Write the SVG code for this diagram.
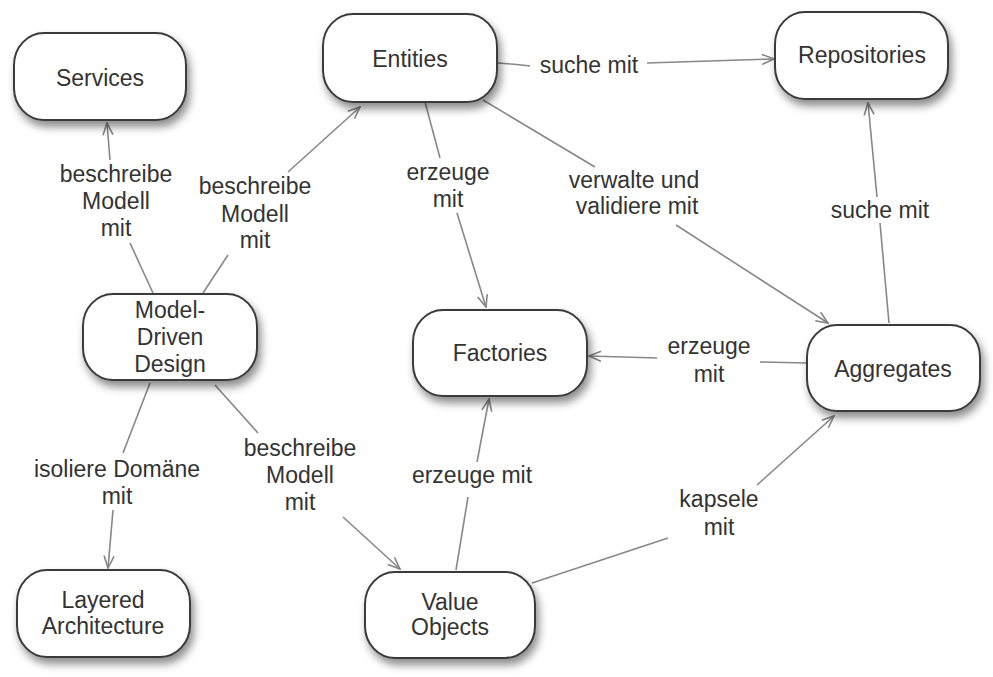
<svg xmlns="http://www.w3.org/2000/svg" width="993" height="677" viewBox="0 0 993 677">
<defs>
<filter id="sh" x="-20%" y="-20%" width="150%" height="160%">
<feDropShadow dx="3" dy="6" stdDeviation="4" flood-color="#000" flood-opacity="0.45"/>
</filter>
<marker id="ah" viewBox="0 0 14 12" refX="13" refY="6" markerWidth="14" markerHeight="12" markerUnits="userSpaceOnUse" orient="auto">
<path d="M1,1 L13,6 L1,11" fill="none" stroke="#858585" stroke-width="1.6"/>
</marker>
<style>
.n rect{fill:#fff;stroke:#3a3a3a;stroke-width:2;filter:url(#sh)}
text{font-family:"Liberation Sans",Arial,Helvetica,sans-serif;font-size:23px;fill:#333;text-anchor:middle}
.c path{fill:none;stroke:#888;stroke-width:1.6}
</style>
</defs>
<rect width="993" height="677" fill="#fff"/>
<g id="connectors" class="c">
<path d="M153,293 L130,243"/>
<path d="M110,160 L107,123" marker-end="url(#ah)"/>
<path d="M203,293 L228,255"/>
<path d="M288,172 L360,107" marker-end="url(#ah)"/>
<path d="M498,63 Q515,64 530,66"/>
<path d="M647,63 L774,59" marker-end="url(#ah)"/>
<path d="M425,102 L440,158"/>
<path d="M457,213 L486,307" marker-end="url(#ah)"/>
<path d="M483,100 L595,167"/>
<path d="M676,225 L828,323" marker-end="url(#ah)"/>
<path d="M889,323 L880,223"/>
<path d="M877,197 L868,103" marker-end="url(#ah)"/>
<path d="M807,363 L760,362"/>
<path d="M657,358 L589,356" marker-end="url(#ah)"/>
<path d="M456,570 L468,497"/>
<path d="M477,462 L489,399" marker-end="url(#ah)"/>
<path d="M532,583 L668,538"/>
<path d="M757,485 L834,416" marker-end="url(#ah)"/>
<path d="M150,383 L123,453"/>
<path d="M113,510 L108,568" marker-end="url(#ah)"/>
<path d="M215,385 L258,433"/>
<path d="M343,517 L400,569" marker-end="url(#ah)"/>
</g>
<g id="labels">
<text x="116" y="182">beschreibe</text>
<text x="116" y="209">Modell</text>
<text x="116" y="236">mit</text>
<text x="255" y="194">beschreibe</text>
<text x="255" y="222">Modell</text>
<text x="255" y="248">mit</text>
<text x="589" y="73">suche mit</text>
<text x="448" y="180">erzeuge</text>
<text x="448" y="207">mit</text>
<text x="634" y="188">verwalte und</text>
<text x="637" y="214">validiere mit</text>
<text x="880" y="218">suche mit</text>
<text x="709" y="354">erzeuge</text>
<text x="709" y="382">mit</text>
<text x="472" y="483">erzeuge mit</text>
<text x="719" y="507">kapsele</text>
<text x="719" y="535">mit</text>
<text x="117" y="477">isoliere Domäne</text>
<text x="117" y="504">mit</text>
<text x="300" y="456">beschreibe</text>
<text x="300" y="483">Modell</text>
<text x="300" y="510">mit</text>
</g>
<g id="services" class="n"><rect x="14" y="33" width="172" height="87" rx="30" ry="32"/><text x="100" y="86">Services</text></g>
<g id="entities" class="n"><rect x="323" y="14" width="174" height="88" rx="30" ry="32"/><text x="410" y="67">Entities</text></g>
<g id="repositories" class="n"><rect x="775" y="12" width="173" height="87" rx="30" ry="32"/><text x="862" y="63">Repositories</text></g>
<g id="model-driven-design" class="n"><rect x="83" y="294" width="174" height="86" rx="30" ry="32"/><text x="170" y="318">Model-</text><text x="170" y="345">Driven</text><text x="170" y="372">Design</text></g>
<g id="factories" class="n"><rect x="413" y="310" width="174" height="86" rx="30" ry="32"/><text x="500" y="361">Factories</text></g>
<g id="aggregates" class="n"><rect x="807" y="325" width="173" height="86" rx="30" ry="32"/><text x="893" y="377">Aggregates</text></g>
<g id="layered-architecture" class="n"><rect x="17" y="570" width="173" height="87" rx="30" ry="32"/><text x="103" y="608">Layered</text><text x="103" y="634">Architecture</text></g>
<g id="value-objects" class="n"><rect x="365" y="572" width="170" height="86" rx="30" ry="32"/><text x="450" y="610">Value</text><text x="450" y="635">Objects</text></g>
</svg>
